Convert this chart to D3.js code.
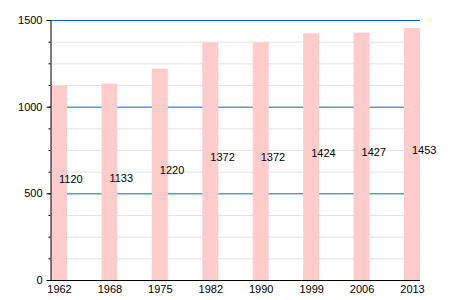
<!DOCTYPE html>
<html>
<head>
<meta charset="utf-8">
<script src="https://cdn.jsdelivr.net/npm/d3@7"></script>
<style>
  body { margin: 0; background: #fff; }
  svg text { font-family: "Liberation Sans", Arial, sans-serif; font-size: 11px; fill: #000; }
</style>
</head>
<body>
<div id="plot"></div>
<script>
// chart data
const years = ["1962", "1968", "1975", "1982", "1990", "1999", "2006", "2013"];
const population = [1120, 1133, 1220, 1372, 1372, 1424, 1427, 1453];
const majorTicks = [0, 500, 1000, 1500];
const minorTicks = d3.range(0, 1501, 125);

const width = 450;
const height = 300;
const plotLeft = 50, plotRight = 420, plotTop = 20, plotBottom = 280;

const svg = d3.select("#plot")
    .append("svg")
    .attr("width", width)
    .attr("height", height);

const x = d3.scalePoint()
    .domain(years)
    .range([59, 412]);

const y = d3.scaleLinear()
    .domain([0, 1500])
    .range([plotBottom, plotTop]);

const barWidth = 16;

// light grid every 125
svg.append("g")
    .selectAll("line")
    .data(minorTicks.filter(d => d % 500 !== 0))
    .enter()
    .append("line")
    .attr("x1", plotLeft)
    .attr("x2", plotRight)
    .attr("y1", d => y(d) + 0.5)
    .attr("y2", d => y(d) + 0.5)
    .style("stroke", "#e3e3e3")
    .style("stroke-width", 1);

// blue lines at 500 steps (bars sit on top of them)
svg.append("g")
    .selectAll("line")
    .data(majorTicks.filter(d => d > 0))
    .enter()
    .append("line")
    .attr("x1", plotLeft)
    .attr("x2", plotRight)
    .attr("y1", d => y(d) + 0.5)
    .attr("y2", d => y(d) + 0.5)
    .style("stroke", "#0066cc")
    .style("stroke-width", 1);

// bars
svg.append("g")
    .selectAll("rect")
    .data(population)
    .enter()
    .append("rect")
    .attr("x", (d, i) => x(years[i]) - barWidth / 2)
    .attr("y", d => y(d))
    .attr("width", barWidth)
    .attr("height", d => plotBottom - y(d))
    .style("fill", "#ffcccc");

// value labels, halfway up each bar
svg.append("g")
    .selectAll("text")
    .data(population)
    .enter()
    .append("text")
    .attr("x", (d, i) => x(years[i]))
    .attr("y", d => y(d / 2))
    .text(d => d);

// y axis with minor ticks
svg.append("g")
    .attr("transform", `translate(${plotLeft + 0.5},0)`)
    .call(d3.axisLeft(y).tickValues(minorTicks).tickSize(2).tickFormat(""))
    .call(g => g.select(".domain").remove())
    .call(g => g.selectAll("line").style("stroke", "#000"));

svg.append("g")
    .attr("transform", `translate(${plotLeft + 0.5},0)`)
    .call(d3.axisLeft(y).tickValues(majorTicks).tickFormat(d3.format("d")).tickSize(4).tickPadding(4).tickSizeOuter(0))
    .call(g => g.selectAll("text").style("font-size", "11px").style("font-family", "Liberation Sans, Arial, sans-serif"))
    .call(g => g.selectAll("line, path").style("stroke", "#000"));

// x axis
svg.append("g")
    .attr("transform", `translate(0,${plotBottom + 0.5})`)
    .call(d3.axisBottom(x).tickSize(0).tickPadding(5))
    .call(g => g.select(".domain").attr("d", `M${plotLeft},0H${plotRight}`).style("stroke", "#000"))
    .call(g => g.selectAll("text").style("font-size", "11px").style("font-family", "Liberation Sans, Arial, sans-serif"));
</script>
</body>
</html>
